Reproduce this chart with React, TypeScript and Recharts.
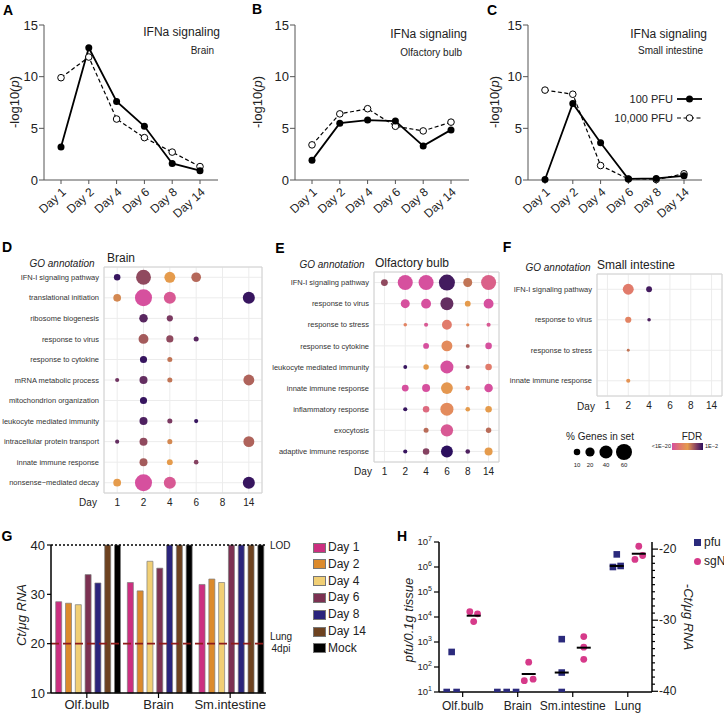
import React from "react";
import {
  LineChart,
  Line,
  XAxis,
  YAxis,
  ScatterChart,
  Scatter,
  ZAxis,
  CartesianGrid,
  ReferenceArea,
  ReferenceLine,
  BarChart,
  Bar,
  Cell,
} from "recharts";

const FONT = "'Liberation Sans', Arial, Helvetica, sans-serif";

// A-C: IFNa signaling, -log10(p) per time point, 100 PFU vs 10,000 PFU
const timepoints = ["Day 1", "Day 2", "Day 4", "Day 6", "Day 8", "Day 14"];
const brainLow = [3.2, 12.8, 7.6, 5.2, 1.6, 0.9];
const brainHigh = [9.9, 11.9, 5.9, 4.1, 2.7, 1.3];
const olfLow = [1.9, 5.5, 5.8, 5.7, 3.3, 4.85];
const olfHigh = [3.4, 6.4, 6.9, 5.2, 4.75, 5.6];
const intLow = [0.05, 7.4, 3.6, 0.1, 0.15, 0.4];
const intHigh = [8.7, 8.3, 1.4, 0.1, 0.05, 0.6];

// D-F: GO terms, % genes in set and log10(FDR); columns follow timepoints
const brainTerms = [
  "IFN-I signaling pathway",
  "translational initiation",
  "ribosome biogenesis",
  "response to virus",
  "response to cytokine",
  "mRNA metabolic process",
  "mitochondrion organization",
  "leukocyte mediated immunity",
  "intracellular protein transport",
  "innate immune response",
  "nonsense\u2212mediated decay",
];
const brainPct = [
  [10, 52, 28, 22, null, null],
  [14, 68, 34, null, null, 34],
  [null, 17, 9, null, null, null],
  [null, 23, 12, 6, null, null],
  [null, 12, 6, null, null, null],
  [4, 15, 6, null, null, 28],
  [null, 12, null, null, null, null],
  [null, 15, 6, 4, null, null],
  [4, 15, 6, null, null, 28],
  [null, 15, 8, 5, null, null],
  [14, 68, 34, null, null, 34],
];
const brainFdr = [
  [-2.5, -6.5, -11, -8.3, null, null],
  [-10, -20, -19, null, null, -2.5],
  [null, -4, -5.5, null, null, null],
  [null, -7.5, -6.5, -4, null, null],
  [null, -2.5, -9, null, null, null],
  [-5, -4.5, -9, null, null, -8],
  [null, -2.5, null, null, null, null],
  [null, -3.5, -5.5, -2.5, null, null],
  [-4.5, -6.5, -10, null, null, -8],
  [null, -7.5, -11, -6, null, null],
  [-11, -20, -19, null, null, -2.5],
];

const olfTerms = [
  "IFN-I signaling pathway",
  "response to virus",
  "response to stress",
  "response to cytokine",
  "leukocyte mediated immunity",
  "innate immune response",
  "inflammatory response",
  "exocytosis",
  "adaptive immune response",
];
const olfPct = [
  [11, 53, 53, 60, 19, 53],
  [null, 19, 23, 40, 8, 23],
  [null, 3, 4, 23, 2.5, 4],
  [null, null, 8, 28, 3.5, 10],
  [null, 3.5, 7, 40, 4, 10],
  [null, 11, 15, 33, 5, 17],
  [null, 4, 10, 40, 5, 10],
  [null, null, 6, 36, null, 7],
  [null, 4, 10, 33, 5, 15],
];
const olfFdr = [
  [-6.5, -20, -20, -3, -9, -18],
  [null, -20, -20, -4.5, -11, -20],
  [null, -14, -19, -15, -13, -19],
  [null, null, -20, -13, -8, -20],
  [null, -2.5, -11, -20, -6.5, -15],
  [null, -20, -20, -11.5, -14, -20],
  [null, -2.5, -17, -13, -11, -11],
  [null, null, -8.5, -19, null, -8.5],
  [null, -2.5, -6, -2, -3.5, -11],
];

const intTerms = [
  "IFN-I signaling pathway",
  "response to virus",
  "response to stress",
  "innate immune response",
];
const intPct = [
  [null, 28, 8, null, null, null],
  [null, 9, 3, null, null, null],
  [null, 2, null, null, null, null],
  [null, 4, null, null, null, null],
];
const intFdr = [
  [null, -15, -3, null, null, null],
  [null, -14, -3.5, null, null, null],
  [null, -9, null, null, null, null],
  [null, -12, null, null, null, null],
];
const sizeLegend = [10, 20, 40, 60];

// G: Ct per ug RNA
const ctTissues = ["Olf.bulb", "Brain", "Sm.intestine"];
const ctSeries = ["Day 1", "Day 2", "Day 4", "Day 6", "Day 8", "Day 14", "Mock"];
const ctOlf = [28.5, 28.2, 27.9, 34.0, 32.3, 40, 40];
const ctBrain = [32.4, 30.7, 36.7, 35.3, 40, 40, 40];
const ctSmInt = [32.0, 33.1, 32.4, 40, 40, 40, 40];
const ctLod = 40;
const ctLung = 20;

// H: pfu per 0.1 g tissue (left) and sgN -Ct (right), 3 animals each
const hTissues = ["Olf.bulb", "Brain", "Sm.intestine", "Lung"];
const pfuValues = [
  [10, 400, 10],
  [10, 10, 10],
  [1300, 60, 10],
  [1.0e6, 3.2e6, 1.1e6],
];
const sgnValues = [
  [-28.8, -30.2, -29.1],
  [-38.5, -35.9, -38.3],
  [-32.3, -33.8, -35.5],
  [-21.45, -19.6, -20.9],
];

const dayColors = ["#cc2f80", "#dc8a2c", "#f1cf75", "#7c3152", "#2a247c", "#6d4220", "#000000"];
const fdrStops: [number, string][] = [
  [0, "#d6509e"],
  [0.25, "#e0776f"],
  [0.5, "#e59b4c"],
  [0.65, "#b5685a"],
  [0.8, "#7d3b62"],
  [1, "#2c0f5e"],
];

const hex = (h: string) => [1, 3, 5].map((i) => parseInt(h.slice(i, i + 2), 16));
const fdrColor = (lf: number) => {
  const t = Math.min(1, Math.max(0, (lf + 20) / 18));
  for (let k = 1; k < fdrStops.length; k++) {
    const [t1, c1] = fdrStops[k];
    if (t <= t1) {
      const [t0, c0] = fdrStops[k - 1];
      const f = (t - t0) / (t1 - t0);
      const a = hex(c0);
      const b = hex(c1);
      return `rgb(${a.map((v, i) => Math.round(v + (b[i] - v) * f)).join(",")})`;
    }
  }
  return fdrStops[fdrStops.length - 1][1];
};
// 60% -> 8px radius, area scales with value
const areaFor = (v: number) => (v / 60) * Math.PI * 64;
const radiusFor = (v: number) => 8 * Math.sqrt(v / 60);

const T = ({ x, y, a = "start", s = 12, children, style }: any) => {
  const tx = a === "middle" ? "-50%" : a === "end" ? "-100%" : "0";
  return (
    <div
      style={{
        position: "absolute",
        left: x,
        top: y,
        transform: `translate(${tx}, -50%)`,
        fontSize: s,
        lineHeight: 1,
        whiteSpace: "nowrap",
        color: "#222",
        ...style,
      }}
    >
      {children}
    </div>
  );
};

const VT = ({ x, y, s = 13, rot = -90, children, style }: any) => (
  <div
    style={{
      position: "absolute",
      left: x,
      top: y,
      transform: `translate(-50%, -50%) rotate(${rot}deg)`,
      fontSize: s,
      lineHeight: 1,
      whiteSpace: "nowrap",
      color: "#222",
      ...style,
    }}
  >
    {children}
  </div>
);

const Letter = ({ x, y, c }: any) => (
  <T x={x} y={y} a="middle" s={14} style={{ fontWeight: "bold", color: "#000" }}>
    {c}
  </T>
);

const DayTick = (props: any) => {
  const { x, y, payload } = props;
  const px = x + 3;
  const py = y + 4;
  return (
    <text
      x={px}
      y={py}
      dy="0.35em"
      textAnchor="end"
      fontSize={12}
      fill="#222"
      transform={`rotate(-42 ${px} ${py})`}
    >
      {payload.value}
    </text>
  );
};

const openDot = (p: any) => (
  <circle key={`o-${p.index}`} cx={p.cx} cy={p.cy} r={3.3} fill="#fff" stroke="#000" strokeWidth={1} />
);
const fullDot = (p: any) => (
  <circle key={`f-${p.index}`} cx={p.cx} cy={p.cy} r={3.5} fill="#000" stroke="none" />
);

const IfnPanel = ({ left, low, high }: any) => {
  const data = timepoints.map((day, i) => ({ day, low: low[i], high: high[i] }));
  return (
    <div style={{ position: "absolute", left, top: 0 }}>
      <LineChart width={240} height={225} data={data} margin={{ top: 25, right: 22, bottom: 0, left: 14 }}>
        <XAxis
          dataKey="day"
          height={45}
          interval={0}
          padding={{ left: 17, right: 18 }}
          tick={<DayTick />}
          tickSize={4}
          stroke="#555"
        />
        <YAxis
          type="number"
          domain={[0, 15]}
          ticks={[0, 5, 10, 15]}
          width={30}
          tickSize={5}
          tickMargin={1}
          stroke="#555"
          tick={{ fontSize: 13, fill: "#222" }}
        />
        <Line
          dataKey="high"
          stroke="#000"
          strokeWidth={1.2}
          strokeDasharray="4 2.5"
          dot={openDot}
          isAnimationActive={false}
        />
        <Line dataKey="low" stroke="#000" strokeWidth={1.8} dot={fullDot} isAnimationActive={false} />
      </LineChart>
    </div>
  );
};

const dayNums = timepoints.map((d) => d.replace("Day ", ""));

const TermTick = ({ x, y, payload, terms }: any) => (
  <text x={x} y={y} dy="0.35em" textAnchor="end" fontSize={7.5} fill="#333">
    {terms[payload.value]}
  </text>
);

const DotPanel = ({ left, top, width, height, m, yw, terms, pct, fdr }: any) => {
  const pts: any[] = [];
  pct.forEach((row: any[], r: number) =>
    row.forEach((v, c) => {
      if (v != null) pts.push({ x: c, y: r, z: v, fill: fdrColor(fdr[r][c]) });
    })
  );
  const n = terms.length;
  return (
    <div style={{ position: "absolute", left, top }}>
      <ScatterChart width={width} height={height} margin={m}>
        <CartesianGrid stroke="#ececec" />
        <ReferenceArea x1={-0.5} x2={5.5} y1={-0.5} y2={n - 0.5} fill="none" stroke="#d2d2d2" />
        <XAxis
          type="number"
          dataKey="x"
          domain={[-0.5, 5.5]}
          ticks={[0, 1, 2, 3, 4, 5]}
          interval={0}
          tickFormatter={(v: number) => dayNums[v]}
          axisLine={false}
          tickLine={false}
          tickSize={4}
          tickMargin={2}
          height={22}
          tick={{ fontSize: 10, fill: "#222" }}
        />
        <YAxis
          type="number"
          dataKey="y"
          domain={[-0.5, n - 0.5]}
          reversed
          ticks={terms.map((_: any, i: number) => i)}
          interval={0}
          axisLine={false}
          tickLine={false}
          tickSize={3}
          tickMargin={2}
          width={yw}
          tick={(p: any) => <TermTick {...p} terms={terms} />}
        />
        <ZAxis type="number" dataKey="z" domain={[0, 70]} range={[0, areaFor(70)]} />
        <Scatter data={pts} isAnimationActive={false}>
          {pts.map((p, i) => (
            <Cell key={`c-${i}`} fill={p.fill} />
          ))}
        </Scatter>
      </ScatterChart>
    </div>
  );
};

const ctData = ctTissues.map((tissue, i) => {
  const vals = [ctOlf, ctBrain, ctSmInt][i];
  const row: any = { tissue };
  ctSeries.forEach((s, j) => (row[s] = vals[j]));
  return row;
});

const PowTick = (props: any) => {
  const { x, y, payload } = props;
  return (
    <text x={x} y={y} dy="0.35em" textAnchor="end" fontSize={9.5} fill="#222">
      10
      <tspan dy={-4} fontSize={7}>
        {Math.round(Math.log10(payload.value))}
      </tspan>
    </text>
  );
};

const CtTick = (props: any) => {
  const { x, y, payload } = props;
  const major = payload.value % 10 === 0;
  return (
    <g>
      <line x1={x} x2={x + (major ? 6 : 3)} y1={y} y2={y} stroke="#000" strokeWidth={1.2} />
      {major && (
        <text x={x + 7} y={y} dy="0.35em" textAnchor="start" fontSize={12} fill="#222">
          {payload.value}
        </text>
      )}
    </g>
  );
};

const median = (a: number[]) => [...a].sort((p, q) => p - q)[Math.floor(a.length / 2)];
const mean = (a: number[]) => a.reduce((s, v) => s + v, 0) / a.length;
const pfuSpread = [0.09, 0.17, 0, 0.07];
const sgnSpread = [0.07, 0.08, 0, 0.07];

const pfuPts = pfuValues.flatMap((vals, i) =>
  vals.map((v, j) => ({ x: i - 0.2 + (j - 1) * pfuSpread[i], y: v }))
);
const sgnPts = sgnValues.flatMap((vals, i) =>
  vals.map((v, j) => ({ x: i + 0.2 + (j - 1) * sgnSpread[i], y: v }))
);
const pfuMid = pfuValues
  .map((vals, i) => ({ x: i - 0.2, y: median(vals) }))
  .filter((p) => p.y > 10);
const sgnMid = sgnValues.map((vals, i) => ({ x: i + 0.2, y: mean(vals) }));

const squareShape = (p: any) => <rect x={p.cx - 3.3} y={p.cy - 3.3} width={6.6} height={6.6} fill="#2b2a7c" />;
const circleShape = (p: any) => <circle cx={p.cx} cy={p.cy} r={3.4} fill="#d63a8a" />;
const midShape = (p: any) => (
  <line x1={p.cx - 7} x2={p.cx + 7} y1={p.cy} y2={p.cy} stroke="#000" strokeWidth={2} />
);

export default function App() {
  return (
    <div
      style={{
        position: "absolute",
        left: 0,
        top: 0,
        width: 724,
        height: 717,
        background: "#fff",
        overflow: "hidden",
        fontFamily: FONT,
      }}
    >
      {/* A-C */}
      <IfnPanel left={0} low={brainLow} high={brainHigh} />
      <IfnPanel left={251} low={olfLow} high={olfHigh} />
      <IfnPanel left={484} low={intLow} high={intHigh} />
      <Letter x={8} y={10} c="A" />
      <Letter x={257} y={9} c="B" />
      <Letter x={492} y={10} c="C" />
      {[14, 257, 494].map((x) => (
        <VT key={x} x={x} y={102} s={13}>
          -log10(<i>p</i>)
        </VT>
      ))}
      <T x={220} y={32} a="end" s={12}>IFNa signaling</T>
      <T x={214} y={51} a="end" s={10}>Brain</T>
      <T x={467} y={34} a="end" s={12}>IFNa signaling</T>
      <T x={462} y={53} a="end" s={10}>Olfactory bulb</T>
      <T x={707} y={34} a="end" s={12}>IFNa signaling</T>
      <T x={703} y={51} a="end" s={10}>Small intestine</T>
      <T x={673} y={99} a="end" s={11}>100 PFU</T>
      <T x={673} y={118} a="end" s={11}>10,000 PFU</T>
      <svg style={{ position: "absolute", left: 676, top: 90 }} width={30} height={36}>
        <line x1={1} x2={26} y1={9} y2={9} stroke="#000" strokeWidth={1.8} />
        <circle cx={13.5} cy={9} r={3.5} fill="#000" />
        <line x1={1} x2={26} y1={28} y2={28} stroke="#000" strokeWidth={1.2} strokeDasharray="4 2.5" />
        <circle cx={13.5} cy={28} r={3.3} fill="#fff" stroke="#000" strokeWidth={1} />
      </svg>

      {/* D-F */}
      <DotPanel
        left={0}
        top={225}
        width={270}
        height={290}
        m={{ top: 42, right: 8, bottom: 0, left: 4 }}
        yw={100}
        terms={brainTerms}
        pct={brainPct}
        fdr={brainFdr}
      />
      <DotPanel
        left={262}
        top={225}
        width={246}
        height={259}
        m={{ top: 47, right: 9, bottom: 0, left: 4 }}
        yw={108}
        terms={olfTerms}
        pct={olfPct}
        fdr={olfFdr}
      />
      <DotPanel
        left={500}
        top={225}
        width={224}
        height={193}
        m={{ top: 49, right: 2, bottom: 0, left: 2 }}
        yw={95}
        terms={intTerms}
        pct={intPct}
        fdr={intFdr}
      />
      <Letter x={7} y={247} c="D" />
      <Letter x={280} y={248} c="E" />
      <Letter x={507} y={247} c="F" />
      <T x={62} y={264} a="middle" s={10} style={{ fontStyle: "italic" }}>GO annotation</T>
      <T x={107} y={258} s={12}>Brain</T>
      <T x={88} y={503} a="middle" s={10}>Day</T>
      <T x={332} y={265} a="middle" s={10} style={{ fontStyle: "italic" }}>GO annotation</T>
      <T x={375} y={263} s={12}>Olfactory bulb</T>
      <T x={363} y={472} a="middle" s={10}>Day</T>
      <T x={558} y={268} a="middle" s={10} style={{ fontStyle: "italic" }}>GO annotation</T>
      <T x={597} y={265} s={12}>Small intestine</T>
      <T x={586} y={407} a="middle" s={10}>Day</T>

      {/* size / FDR legend */}
      <T x={600} y={437} a="middle" s={10}>% Genes in set</T>
      {sizeLegend.map((v, i) => {
        const x = [577, 590, 606, 624][i];
        return (
          <React.Fragment key={v}>
            <svg style={{ position: "absolute", left: x - 9, top: 443 }} width={18} height={18}>
              <circle cx={9} cy={9} r={radiusFor(v)} fill="#000" />
            </svg>
            <T x={x} y={465} a="middle" s={6}>{v}</T>
          </React.Fragment>
        );
      })}
      <T x={692} y={437} a="middle" s={10}>FDR</T>
      <svg style={{ position: "absolute", left: 672, top: 443 }} width={32} height={8}>
        <defs>
          <linearGradient id="fdrg" x1="0" x2="1" y1="0" y2="0">
            {fdrStops.map(([t, c]) => (
              <stop key={t} offset={t} stopColor={c} />
            ))}
          </linearGradient>
        </defs>
        <rect x={0} y={0} width={31} height={7} fill="url(#fdrg)" />
      </svg>
      <T x={671} y={447} a="end" s={5.5}>{"<1E\u221220"}</T>
      <T x={705} y={447} s={5.5}>{"1E\u22122"}</T>

      {/* G */}
      <div style={{ position: "absolute", left: 0, top: 530 }}>
        <BarChart
          width={300}
          height={187}
          data={ctData}
          margin={{ top: 15, right: 34, bottom: 0, left: 21 }}
          barCategoryGap={4.7}
          barGap={3.8}
        >
          <XAxis
            dataKey="tissue"
            height={24}
            tickSize={5}
            tickMargin={2}
            axisLine={{ stroke: "#000", strokeWidth: 1.5 }}
            tickLine={{ stroke: "#000", strokeWidth: 1.2 }}
            tick={{ fontSize: 13, fill: "#222" }}
          />
          <YAxis
            type="number"
            domain={[10, 40]}
            ticks={[10, 20, 30, 40]}
            width={30}
            tickSize={4}
            tickMargin={2}
            axisLine={{ stroke: "#000", strokeWidth: 1.5 }}
            tickLine={{ stroke: "#000", strokeWidth: 1.2 }}
            tick={{ fontSize: 13, fill: "#222" }}
          />
          {ctSeries.map((s, j) => (
            <Bar
              key={s}
              dataKey={s}
              fill={dayColors[j]}
              stroke="#7d7d7d"
              strokeWidth={0.7}
              isAnimationActive={false}
            />
          ))}
          <ReferenceLine y={ctLod} stroke="#000" strokeWidth={1.5} strokeDasharray="2 2" />
          <ReferenceLine y={ctLung} stroke="#8e1b1b" strokeWidth={1.6} strokeDasharray="8 4" />
        </BarChart>
      </div>
      <Letter x={7} y={536} c="G" />
      <VT x={21} y={615} s={13} style={{ fontStyle: "italic" }}>Ct/μg RNA</VT>
      <T x={270} y={546} s={10}>LOD</T>
      <T x={281} y={637} a="middle" s={10}>Lung</T>
      <T x={281} y={649} a="middle" s={10}>4dpi</T>
      {ctSeries.map((s, j) => {
        const y = 547 + j * 16.8;
        return (
          <React.Fragment key={s}>
            <div
              style={{
                position: "absolute",
                left: 313,
                top: y - 4.5,
                width: 11,
                height: 8,
                background: dayColors[j],
                border: "1px solid #777",
              }}
            />
            <T x={328} y={y} s={12}>{s}</T>
          </React.Fragment>
        );
      })}

      {/* H */}
      <div style={{ position: "absolute", left: 360, top: 530 }}>
        <ScatterChart width={330} height={187} margin={{ top: 12, right: 6, bottom: 0, left: 43 }}>
          <XAxis
            type="number"
            dataKey="x"
            domain={[-0.43, 3.44]}
            allowDataOverflow
            ticks={[0, 1, 2, 3]}
            interval={0}
            tickFormatter={(v: number) => hTissues[v]}
            height={25}
            tickSize={5}
            tickMargin={4}
            axisLine={{ stroke: "#000", strokeWidth: 1.5 }}
            tickLine={{ stroke: "#000", strokeWidth: 1.2 }}
            tick={{ fontSize: 12, fill: "#222" }}
          />
          <YAxis
            yAxisId="left"
            type="number"
            dataKey="y"
            scale="log"
            domain={[10, 1e7]}
            allowDataOverflow
            ticks={[10, 100, 1e3, 1e4, 1e5, 1e6, 1e7]}
            interval={0}
            width={36}
            tickSize={5}
            tickMargin={2}
            axisLine={{ stroke: "#000", strokeWidth: 1.5 }}
            tickLine={{ stroke: "#000", strokeWidth: 1.2 }}
            tick={<PowTick />}
          />
          <YAxis
            yAxisId="right"
            orientation="right"
            type="number"
            dataKey="y"
            domain={[-40.1, -19]}
            allowDataOverflow
            ticks={Array.from({ length: 21 }, (_, k) => -40 + k)}
            interval={0}
            width={32}
            tickSize={0}
            tickMargin={0}
            tickLine={false}
            axisLine={{ stroke: "#000", strokeWidth: 1.5 }}
            tick={<CtTick />}
          />
          <Scatter yAxisId="left" data={pfuPts} shape={squareShape} isAnimationActive={false} />
          <Scatter yAxisId="right" data={sgnPts} shape={circleShape} isAnimationActive={false} />
          <Scatter yAxisId="left" data={pfuMid} shape={midShape} isAnimationActive={false} />
          <Scatter yAxisId="right" data={sgnMid} shape={midShape} isAnimationActive={false} />
        </ScatterChart>
      </div>
      <Letter x={402} y={536} c="H" />
      <VT x={408} y={620} s={13} style={{ fontStyle: "italic" }}>pfu/0.1g tissue</VT>
      <VT x={688} y={617} s={13} rot={90} style={{ fontStyle: "italic" }}>-Ct/μg RNA</VT>
      <div style={{ position: "absolute", left: 694, top: 539, width: 6.5, height: 6.5, background: "#2b2a7c" }} />
      <T x={704} y={542} s={12}>pfu</T>
      <div
        style={{
          position: "absolute",
          left: 694,
          top: 558,
          width: 7,
          height: 7,
          borderRadius: "50%",
          background: "#d63a8a",
        }}
      />
      <T x={704} y={561} s={12}>sgN</T>
    </div>
  );
}
